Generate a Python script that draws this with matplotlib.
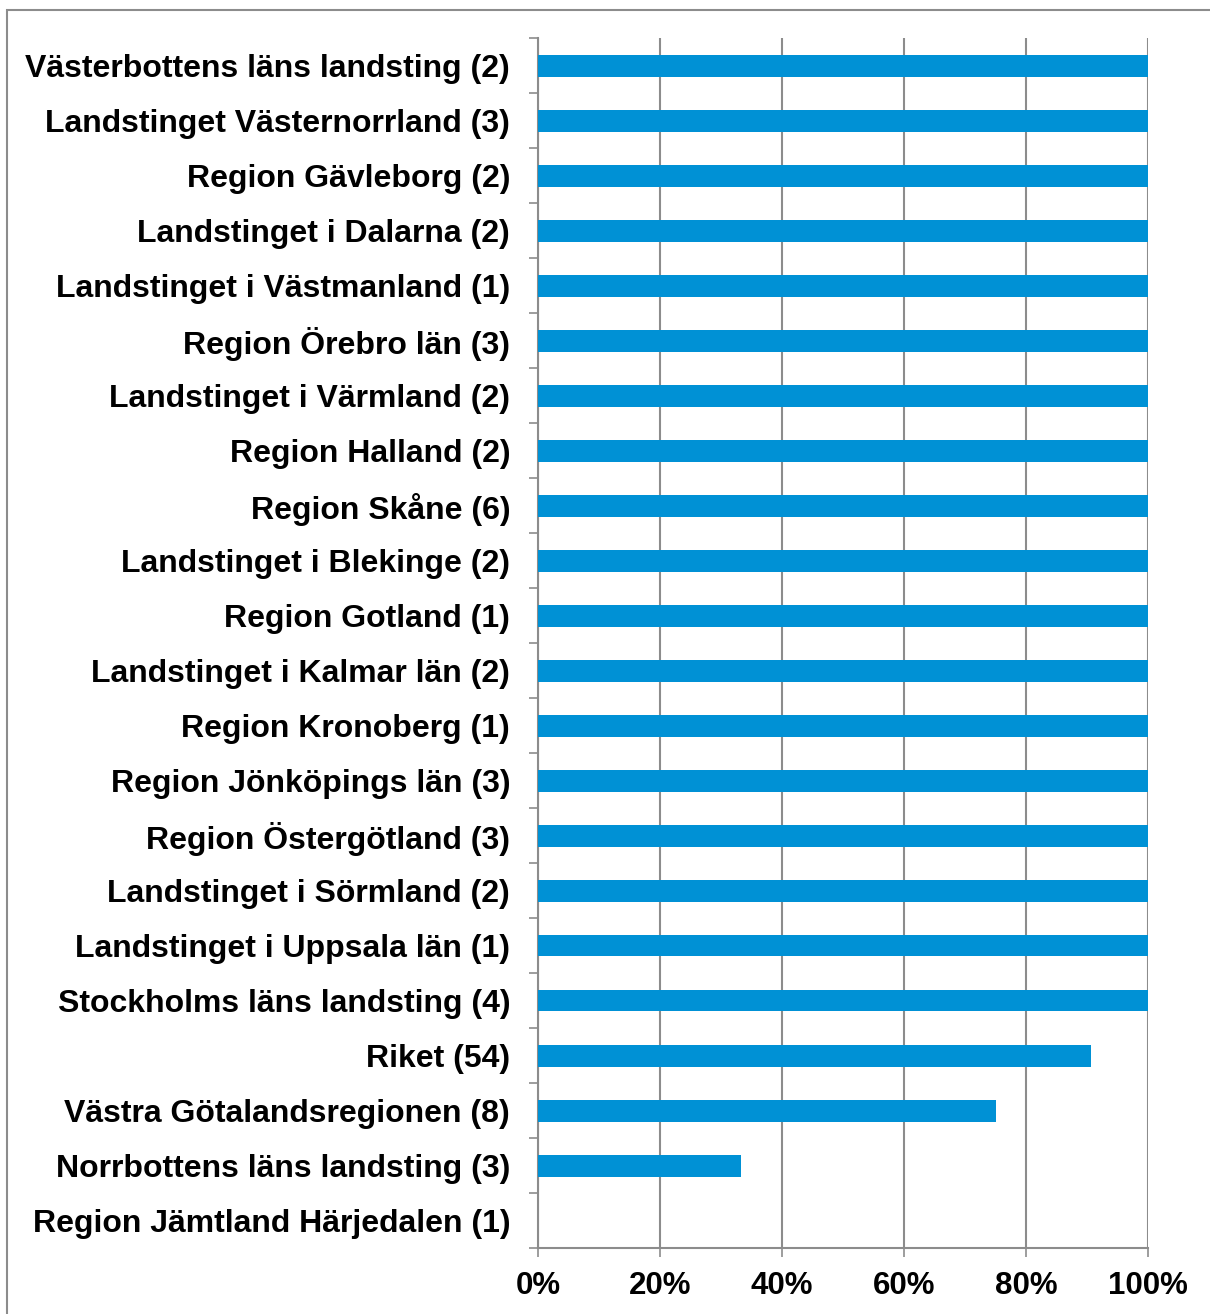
import matplotlib
matplotlib.use("Agg")
import matplotlib.pyplot as plt
from matplotlib.patches import Rectangle
from matplotlib.ticker import FixedLocator, PercentFormatter

categories = [
    "Västerbottens läns landsting (2)",
    "Landstinget Västernorrland (3)",
    "Region Gävleborg (2)",
    "Landstinget i Dalarna (2)",
    "Landstinget i Västmanland (1)",
    "Region Örebro län (3)",
    "Landstinget i Värmland (2)",
    "Region Halland (2)",
    "Region Skåne (6)",
    "Landstinget i Blekinge (2)",
    "Region Gotland (1)",
    "Landstinget i Kalmar län (2)",
    "Region Kronoberg (1)",
    "Region Jönköpings län (3)",
    "Region Östergötland (3)",
    "Landstinget i Sörmland (2)",
    "Landstinget i Uppsala län (1)",
    "Stockholms läns landsting (4)",
    "Riket (54)",
    "Västra Götalandsregionen (8)",
    "Norrbottens läns landsting (3)",
    "Region Jämtland Härjedalen (1)",
]
values = [100] * 18 + [90.7, 75.0, 33.3, 0.0]
xticks = [0, 20, 40, 60, 80, 100]

W, H = 1210, 1314
fig = plt.figure(figsize=(W / 100, H / 100), dpi=100)
plt.rcParams['font.family'] = ['Liberation Sans', 'DejaVu Sans']

# outer chart border
fig.patches.append(Rectangle((7 / W, -0.05), 1.1, 1 - 10 / H + 0.05,
                             transform=fig.transFigure, fill=False,
                             edgecolor='#8c8c8c', linewidth=1.5))

left, right = 538 / W, 1148 / W
top, bottom = 1 - 38 / H, 1 - 1248 / H
ax = fig.add_axes([left, bottom, right - left, top - bottom])

n = len(categories)
ypos = list(range(n))
ax.barh(ypos, values, height=0.4, color='#0091D5', zorder=3)
ax.set_ylim(n - 0.5, -0.5)
ax.set_xlim(0, 100)

ax.set_yticks(ypos)
ax.set_yticklabels(categories, fontsize=23, fontweight='bold')
ax.tick_params(axis='y', which='major', length=0, pad=20)
ax.yaxis.set_minor_locator(FixedLocator([i - 0.5 for i in range(n + 1)]))
ax.tick_params(axis='y', which='minor', length=6.5, width=1.2, color='#8c8c8c')

ax.set_xticks(xticks)
ax.xaxis.set_major_formatter(PercentFormatter(decimals=0))
ax.tick_params(axis='x', length=6.5, width=1.2, color='#8c8c8c', labelsize=22.5, pad=10)
for lab in ax.get_xticklabels():
    lab.set_fontweight('bold')

ax.grid(axis='x', color='#8c8c8c', linewidth=1.5, zorder=0)
for s in ['top', 'right']:
    ax.spines[s].set_visible(False)
for s in ['left', 'bottom']:
    ax.spines[s].set_color('#8c8c8c')
    ax.spines[s].set_linewidth(1.5)

fig.savefig("out.png", dpi=100)
